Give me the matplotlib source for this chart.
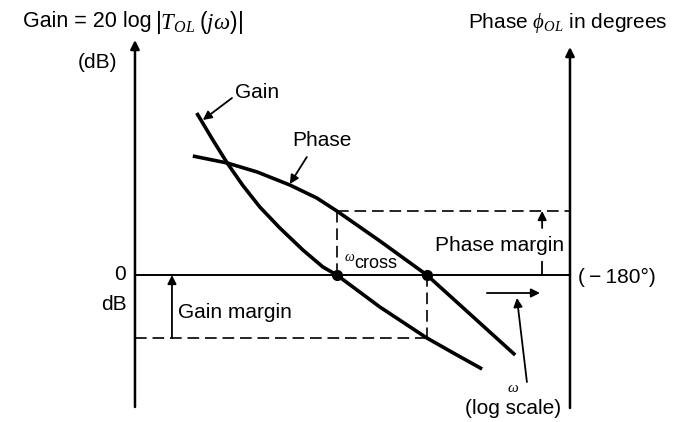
import matplotlib.pyplot as plt
import numpy as np

plt.rcParams['font.family'] = ['Liberation Sans', 'DejaVu Sans']
plt.rcParams['mathtext.fontset'] = 'custom'
plt.rcParams['mathtext.rm'] = 'Liberation Sans'
plt.rcParams['mathtext.it'] = 'Liberation Serif:italic'

# log(omega) in arbitrary units: 0 = left axis, 10 = right axis
# gain in dB (0 dB line), phase drawn on the same scale (0 = -180 deg)
gain_x = [1.42, 1.79, 2.12, 2.48, 2.87, 3.33, 3.86, 4.32, 4.64, 5.63, 6.71, 7.36, 7.98]
gain_db = [16.2, 13.5, 11.2, 8.95, 6.8, 4.7, 2.5, 0.8, 0.0, -3.2, -6.3, -7.9, -9.4]

phase_x = [1.33, 2.12, 2.81, 3.56, 4.18, 4.64, 5.63, 6.71, 7.70, 8.74]
phase_val = [11.9, 11.2, 10.3, 9.0, 7.7, 6.4, 3.4, 0.0, -3.9, -8.0]

w_cross = 4.64        # gain crosses 0 dB
w_180 = 6.71          # phase crosses -180
phase_at_cross = 6.4
gain_at_180 = -6.3

fig = plt.figure(figsize=(6.91, 4.22), dpi=100)
ax = fig.add_axes([0, 0, 1, 1])
ax.set_xlim(-3.103, 12.782)
ax.set_ylim(-14.7, 27.5)
ax.axis('off')

head = dict(arrowstyle='-|>', color='k', lw=1.3, mutation_scale=13, shrinkA=0, shrinkB=0)

# axes
ax.annotate('', xy=(0, 23.5), xytext=(0, -13.2), arrowprops=dict(head, lw=1.8))
ax.annotate('', xy=(10, 22.8), xytext=(10, -13.3), arrowprops=dict(head, lw=1.8))
ax.plot([0, 10], [0, 0], color='k', lw=1.4)

# curves
ax.plot(gain_x, gain_db, color='k', lw=2.6, solid_capstyle='butt', solid_joinstyle='round')
ax.plot(phase_x, phase_val, color='k', lw=2.6, solid_capstyle='butt', solid_joinstyle='round')
ax.plot([w_cross, w_180], [0, 0], 'o', color='k', ms=7)

# dashed construction lines
dash = dict(color='k', lw=1.2, ls=(0, (7, 3.5)))
ax.plot([w_cross, 10], [phase_at_cross, phase_at_cross], **dash)
ax.plot([w_cross, w_cross], [0, phase_at_cross], **dash)
ax.plot([w_180, w_180], [0, gain_at_180], **dash)
ax.plot([0, w_180], [gain_at_180, gain_at_180], **dash)

# margins
ax.annotate('', xy=(0.85, 0), xytext=(0.85, gain_at_180), arrowprops=head)
ax.annotate('', xy=(9.36, phase_at_cross), xytext=(9.36, 4.7), arrowprops=head)
ax.plot([9.36, 9.36], [0, 1.3], color='k', lw=1.3)

# omega direction
ax.annotate('', xy=(9.31, -1.8), xytext=(8.09, -1.8), arrowprops=head)
ax.annotate('', xy=(8.78, -2.3), xytext=(9.01, -10.7), arrowprops=head)

# labels
fs = 15
t = ax.text(-2.57, 25.3, 'Gain = 20 log', fontsize=15.5, va='center')
ax.annotate(r'$|T_{OL}\;(j\omega)|$', xy=(1, 0.5), xycoords=t, xytext=(2, 0),
            textcoords='offset points', fontsize=16.5, va='center')
ax.text(7.66, 25.2, r'Phase $\phi_{OL}$ in degrees', fontsize=fs, va='center')
ax.text(-0.41, 21.3, '(dB)', fontsize=fs, va='center', ha='right')
ax.text(2.30, 18.2, 'Gain', fontsize=fs, va='center')
ax.annotate('', xy=(1.56, 15.5), xytext=(2.23, 17.7), arrowprops=head)
ax.text(3.61, 13.5, 'Phase', fontsize=fs, va='center')
ax.annotate('', xy=(3.56, 9.1), xytext=(3.95, 11.8), arrowprops=head)
ax.text(4.80, 1.8, r'$\omega$', fontsize=10, va='center')
ax.text(5.03, 1.2, 'cross', fontsize=13, va='center')
ax.text(8.39, 3.0, 'Phase margin', fontsize=fs, va='center', ha='center',
        bbox=dict(fc='white', ec='none', pad=1))
ax.text(0.99, -3.7, 'Gain margin', fontsize=fs, va='center')
ax.text(-0.2, 0.0, '0', fontsize=fs, va='center', ha='right')
ax.text(-0.2, -3.0, 'dB', fontsize=fs, va='center', ha='right')
ax.text(10.18, -0.2, '(\u2009\u2212\u2009180\u00b0)', fontsize=fs, va='center')
ax.text(8.69, -11.3, r'$\omega$', fontsize=11, va='center', ha='center')
ax.text(8.69, -13.3, '(log scale)', fontsize=fs, va='center', ha='center')

fig.savefig('out.png', dpi=100)
